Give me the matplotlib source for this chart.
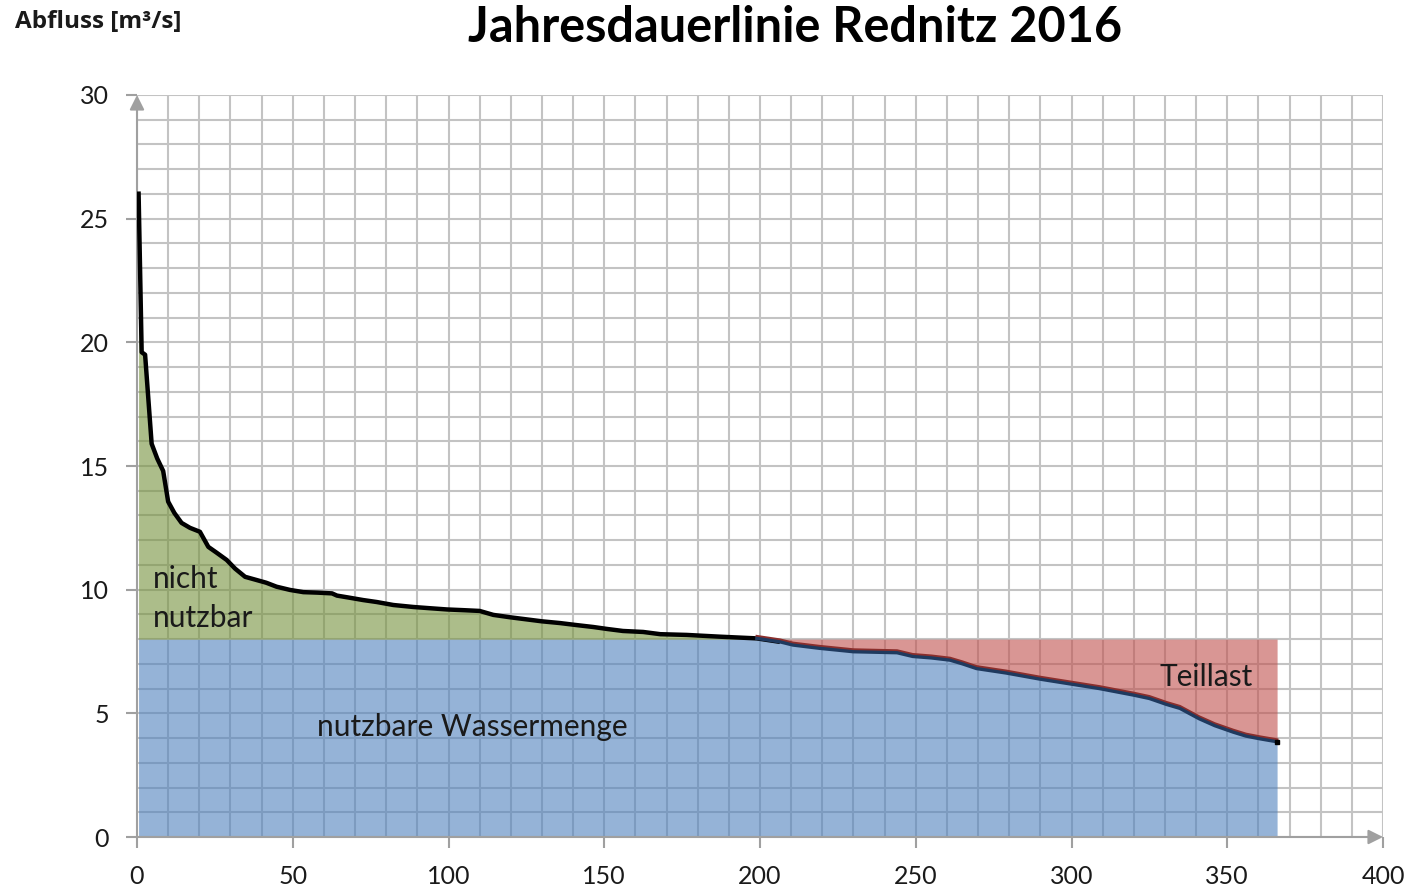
import numpy as np
import matplotlib
matplotlib.use("Agg")
import matplotlib.pyplot as plt
from matplotlib.transforms import offset_copy

# ---- data ----
days = [0.5, 1.5, 2.6, 4.7, 6.5, 8.4, 10, 12, 14.3, 17, 20.2, 22.9, 25.5, 28.8,
        31.5, 34.7, 38.4, 41.5, 44.8, 49.1, 53.4, 58, 62.6, 64.2, 68, 72.6, 77,
        82.3, 88.7, 94, 99.5, 105, 110, 114.4, 120, 125, 130, 135.8, 141, 146.5,
        151, 156, 162.5, 168, 176.5, 187, 199, 206.4, 210.6, 219, 230, 244,
        249, 255, 261, 265, 269.5, 279, 290, 298.5, 309, 319.8, 325, 330.5,
        334.8, 341, 346, 351.9, 356, 360.5, 366]
flow = [26.1, 19.6, 19.5, 15.9, 15.3, 14.8, 13.56, 13.1, 12.7, 12.5, 12.34,
        11.73, 11.5, 11.2, 10.85, 10.52, 10.39, 10.28, 10.12, 9.99, 9.9, 9.88,
        9.85, 9.76, 9.68, 9.58, 9.5, 9.38, 9.3, 9.25, 9.2, 9.17, 9.14, 8.98,
        8.88, 8.8, 8.72, 8.65, 8.57, 8.49, 8.41, 8.33, 8.29, 8.2, 8.17, 8.1,
        8.03, 7.89, 7.76, 7.63, 7.49, 7.45, 7.3, 7.24, 7.15, 7.0, 6.81, 6.63,
        6.38, 6.21, 6.0, 5.74, 5.6, 5.36, 5.2, 4.78, 4.5, 4.24, 4.08, 3.97, 3.85]
threshold = 8.0
title = "Jahresdauerlinie Rednitz 2016"
ylabel = "Abfluss [m³/s]"
x_ticks = [0, 50, 100, 150, 200, 250, 300, 350, 400]
y_ticks = [0, 5, 10, 15, 20, 25, 30]

d = np.array(days)
q = np.array(flow)

plt.rcParams['font.family'] = ['Lato', 'DejaVu Sans']

fig = plt.figure(figsize=(14.08, 8.88), dpi=100)
ax = fig.add_axes([137/1408, 1-837/888, (1383-137)/1408, (837-95)/888])

ax.set_xlim(0, 400)
ax.set_ylim(0, 30)

# grid
ax.set_xticks(np.arange(0, 401, 10), minor=True)
ax.set_yticks(np.arange(0, 31, 1), minor=True)
ax.grid(which='minor', color='#C3C3C3', lw=1.5, zorder=0)
ax.grid(which='major', color='#C3C3C3', lw=1.5, zorder=0)
ax.set_axisbelow(True)

# fills
ax.fill_between(d, 0, np.minimum(q, threshold), color='#4F81BD', alpha=0.6, lw=0, zorder=1)
ax.fill_between(d, threshold, q, where=q >= threshold, interpolate=True,
                color='#76923C', alpha=0.6, lw=0, zorder=1)
ax.fill_between(d, q, threshold, where=q <= threshold, interpolate=True,
                color='#C0504D', alpha=0.6, lw=0, zorder=1)

# curve
above = q >= threshold
ia = np.where(above)[0]
last = ia[-1]
ax.plot(d[:last+2], q[:last+2], color='black', lw=3.2, zorder=4,
        solid_capstyle='butt', solid_joinstyle='round')
tr_up = offset_copy(ax.transData, fig=fig, x=0, y=1.5, units='points')
ax.plot(d[last:], q[last:], color='#8B2E2C', lw=2.0, zorder=4, transform=tr_up)
ax.plot(d[last:], q[last:], color='#1F3A5F', lw=2.4, zorder=5)
ax.plot(d[-1:], q[-1:], marker='s', ms=3, color='black', zorder=6)

# spines / axes arrows
for s in ax.spines.values():
    s.set_visible(False)
ax.annotate('', xy=(0, 30), xytext=(0, 0), xycoords='data',
            arrowprops=dict(arrowstyle='-|>', color='#A0A0A0', lw=1.5,
                            mutation_scale=22, shrinkA=0, shrinkB=0), zorder=3,
            annotation_clip=False)
ax.annotate('', xy=(400, 0), xytext=(0, 0), xycoords='data',
            arrowprops=dict(arrowstyle='-|>', color='#A0A0A0', lw=1.5,
                            mutation_scale=22, shrinkA=0, shrinkB=0), zorder=3,
            annotation_clip=False)

ax.set_xticks(x_ticks)
ax.set_yticks(y_ticks)
ax.set_xticklabels([str(v) for v in x_ticks])
ax.set_yticklabels([str(v) for v in y_ticks])
ax.tick_params(axis='both', which='major', color='#A0A0A0', length=8, width=1.5,
               labelsize=18, labelcolor='#1a1a1a')
ax.tick_params(axis='x', pad=12)
ax.tick_params(axis='y', pad=12)
ax.tick_params(which='minor', length=0)

# labels
fs = 21.5
ax.text(5.1, 10.45, 'nicht', fontsize=fs, color='#1a1a1a', va='center', ha='left', zorder=7)
ax.text(5.1, 8.85, 'nutzbar', fontsize=fs, color='#1a1a1a', va='center', ha='left', zorder=7)
ax.text(57.8, 4.45, 'nutzbare Wassermenge', fontsize=fs, color='#1a1a1a', va='center', ha='left', zorder=7)
ax.text(328.4, 6.45, 'Teillast', fontsize=fs, color='#1a1a1a', va='center', ha='left', zorder=7)

fig.text(795/1408, 1-27/888, title, fontsize=35, fontweight='bold', ha='center', va='center')
fig.text(15/1408, 1-22/888, ylabel, fontsize=17.5, fontweight='bold', ha='left', va='center',
         family=['Open Sans', 'DejaVu Sans'], color='#1a1a1a')

fig.savefig('out.png', dpi=100)
